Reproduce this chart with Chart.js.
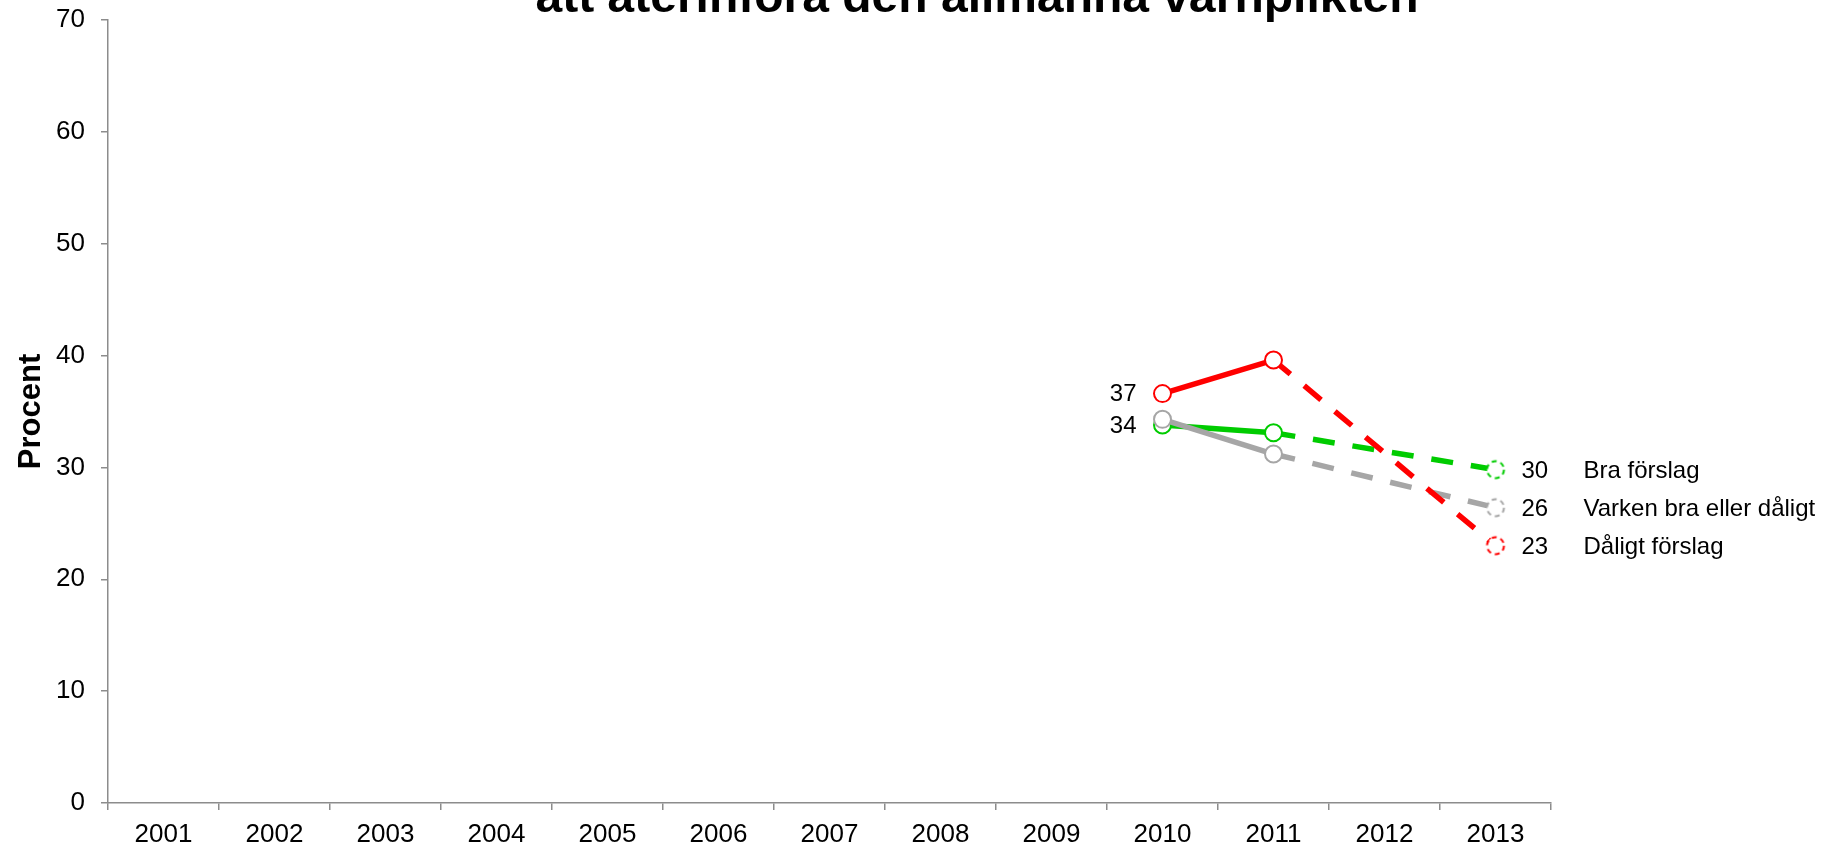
<!DOCTYPE html>
<html>
<head>
<meta charset="utf-8">
<script src="https://cdn.jsdelivr.net/npm/chart.js@4"></script>
<style>
  body { margin: 0; background: #fff; }
  #wrap { width: 1827px; height: 849px; position: relative; }
</style>
</head>
<body>
<div id="wrap"><canvas id="trendChart"></canvas></div>
<script>
// data
const years = ['2001', '2002', '2003', '2004', '2005', '2006', '2007', '2008', '2009', '2010', '2011', '2012', '2013'];
const braForslag = [null, null, null, null, null, null, null, null, null, 33.8, 33.1, null, 29.8];
const varkenBraEllerDaligt = [null, null, null, null, null, null, null, null, null, 34.3, 31.2, null, 26.4];
const daligtForslag = [null, null, null, null, null, null, null, null, null, 36.6, 39.6, null, 23.0];
const seriesNames = ['Bra förslag', 'Varken bra eller dåligt', 'Dåligt förslag'];
const seriesColors = ['#00CC00', '#A6A6A6', '#FF0000'];
const titleText = 'att återinföra den allmänna värnplikten';
const yAxisTitle = 'Procent';

const FONT = 'Liberation Sans, Arial, sans-serif';
const SOLID_LAST = 9;   // 2010
const DASH_FROM = 10;   // 2011 -> 2013 dashed

function dashedCircle(color) {
  const c = document.createElement('canvas');
  c.width = 24; c.height = 24;
  const g = c.getContext('2d');
  g.beginPath();
  g.arc(12, 12, 8.5, 0, Math.PI * 2);
  g.fillStyle = '#fff';
  g.fill();
  g.setLineDash([5, 4]);
  g.lineWidth = 2;
  g.strokeStyle = color;
  g.stroke();
  return c;
}

function makeSeries(idx, values, order) {
  const color = seriesColors[idx];
  const dashed = dashedCircle(color);
  return {
    label: seriesNames[idx],
    data: values,
    order: order,
    borderColor: color,
    backgroundColor: '#fff',
    borderWidth: 5.5,
    spanGaps: true,
    tension: 0,
    pointRadius: 8.5,
    pointBorderWidth: 2,
    pointBackgroundColor: '#fff',
    pointBorderColor: color,
    pointStyle: ctx => ctx.dataIndex === years.length - 1 ? dashed : 'circle',
    segment: {
      borderDash: ctx => ctx.p0DataIndex >= DASH_FROM ? [22, 18] : undefined
    }
  };
}

const labelPlugin = {
  id: 'pointLabels',
  afterDatasetsDraw(chart) {
    const ctx = chart.ctx;
    ctx.save();
    ctx.font = '24px ' + FONT;
    ctx.fillStyle = '#000';
    ctx.textBaseline = 'middle';
    chart.data.datasets.forEach((ds, i) => {
      const meta = chart.getDatasetMeta(i);
      const first = meta.data[SOLID_LAST];
      const last = meta.data[years.length - 1];
      if (ds.showLeft) {
        ctx.textAlign = 'right';
        ctx.fillText(Math.round(ds.data[SOLID_LAST]), first.x - 26, first.y + 1);
      }
      ctx.textAlign = 'left';
      ctx.fillText(Math.round(ds.data[years.length - 1]), last.x + 26, last.y + 2);
      ctx.fillText(ds.label, last.x + 88, last.y + 2);
    });
    ctx.restore();
  }
};

const titlePlugin = {
  id: 'cutTitle',
  afterDraw(chart) {
    const ctx = chart.ctx;
    ctx.save();
    ctx.font = 'bold 46px ' + FONT;
    ctx.fillStyle = '#000';
    ctx.textAlign = 'center';
    ctx.textBaseline = 'alphabetic';
    const w = ctx.measureText(titleText).width;
    const sx = 883 / w;
    ctx.translate(977, 12);
    ctx.scale(sx, 1);
    ctx.fillText(titleText, 0, 0);
    ctx.restore();
  }
};

const greenSet = makeSeries(0, braForslag, 2);
greenSet.showLeft = true;
const graySet = makeSeries(1, varkenBraEllerDaligt, 1);
graySet.showLeft = false;
const redSet = makeSeries(2, daligtForslag, 0);
redSet.showLeft = true;

new Chart(document.getElementById('trendChart'), {
  type: 'line',
  data: {
    labels: years,
    datasets: [greenSet, graySet, redSet]
  },
  options: {
    responsive: true,
    maintainAspectRatio: false,
    animation: false,
    layout: { padding: { left: 0, right: 276, top: 20, bottom: 0 } },
    plugins: {
      legend: { display: false },
      tooltip: { enabled: false }
    },
    scales: {
      x: {
        offset: true,
        grid: { display: true, offset: true, drawOnChartArea: false, drawTicks: true, tickLength: 7, color: '#8C8C8C', lineWidth: 1.5 },
        border: { display: true, color: '#8C8C8C', width: 1.5 },
        ticks: { color: '#000', font: { family: FONT, size: 26 }, padding: 9, maxRotation: 0, autoSkip: false },
        afterFit(scale) { scale.height = 46; }
      },
      y: {
        min: 0,
        max: 70,
        grid: { display: true, drawOnChartArea: false, drawTicks: true, tickLength: 7, color: '#8C8C8C', lineWidth: 1.5 },
        border: { display: true, color: '#8C8C8C', width: 1.5 },
        ticks: { stepSize: 10, color: '#000', font: { family: FONT, size: 26 }, padding: 16 },
        title: {
          display: true,
          text: yAxisTitle,
          color: '#000',
          font: { family: FONT, size: 31, weight: 'bold' },
          padding: { top: 13, bottom: 0 }
        },
        afterFit(scale) {
          scale.width = 108;
          scale.paddingTop = 0;
          scale.paddingBottom = 0;
        }
      }
    }
  },
  plugins: [labelPlugin, titlePlugin]
});
</script>
</body>
</html>
